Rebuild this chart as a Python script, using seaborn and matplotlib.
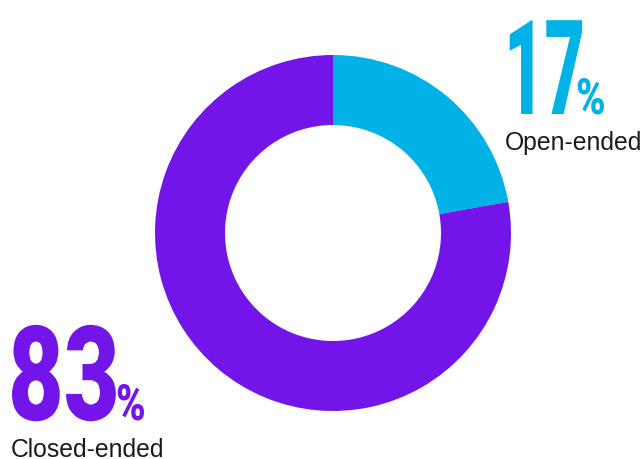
import matplotlib
matplotlib.use("Agg")
import matplotlib.pyplot as plt
import seaborn as sns
from matplotlib.patheffects import AbstractPathEffect
from matplotlib.transforms import Affine2D

sns.set_theme(style="white")

categories = ["Open-ended", "Closed-ended"]
label_values = ["17", "83"]
wedge_shares = [22.2, 77.8]
colors = ["#00B2E6", "#7315E8"]

plt.rcParams["font.family"] = ["Liberation Sans", "DejaVu Sans"]


class Condense(AbstractPathEffect):
    """Draw text glyphs horizontally compressed (condensed face look)."""
    def __init__(self, sx):
        super().__init__()
        self.sx = sx

    def draw_path(self, renderer, gc, tpath, affine, rgbFace=None):
        renderer.draw_path(gc, tpath, Affine2D().scale(self.sx, 1) + affine, rgbFace)


fig = plt.figure(figsize=(6.44, 4.59), dpi=100)
ax = fig.add_axes([0, 0, 1, 1])
ax.set_aspect("equal")
ax.axis("off")

ax.pie(wedge_shares, colors=colors, startangle=90, counterclock=False,
       center=(333, 226), radius=178,
       wedgeprops=dict(width=70, edgecolor="none"))
ax.set_xlim(0, 644)
ax.set_ylim(0, 459)

H = 459
kw = dict(fontweight="black", family=["Roboto", "DejaVu Sans"],
          va="baseline", ha="left")
big = 95
ax.text(504, H - 114, label_values[0], color=colors[0], fontsize=big,
        path_effects=[Condense(0.53)], **kw)
ax.text(576, H - 114, "%", color=colors[0], fontsize=36,
        path_effects=[Condense(0.8)], **kw)
ax.text(505, H - 150, categories[0], color="#1a1a1a", fontsize=17.8,
        va="baseline", ha="left")

ax.text(8, H - 420, label_values[1], color=colors[1], fontsize=big,
        path_effects=[Condense(0.73)], **kw)
ax.text(116, H - 420, "%", color=colors[1], fontsize=36,
        path_effects=[Condense(0.8)], **kw)
ax.text(11, H - 457, categories[1], color="#1a1a1a", fontsize=17.8,
        va="baseline", ha="left")

fig.savefig("out.png", dpi=100)
